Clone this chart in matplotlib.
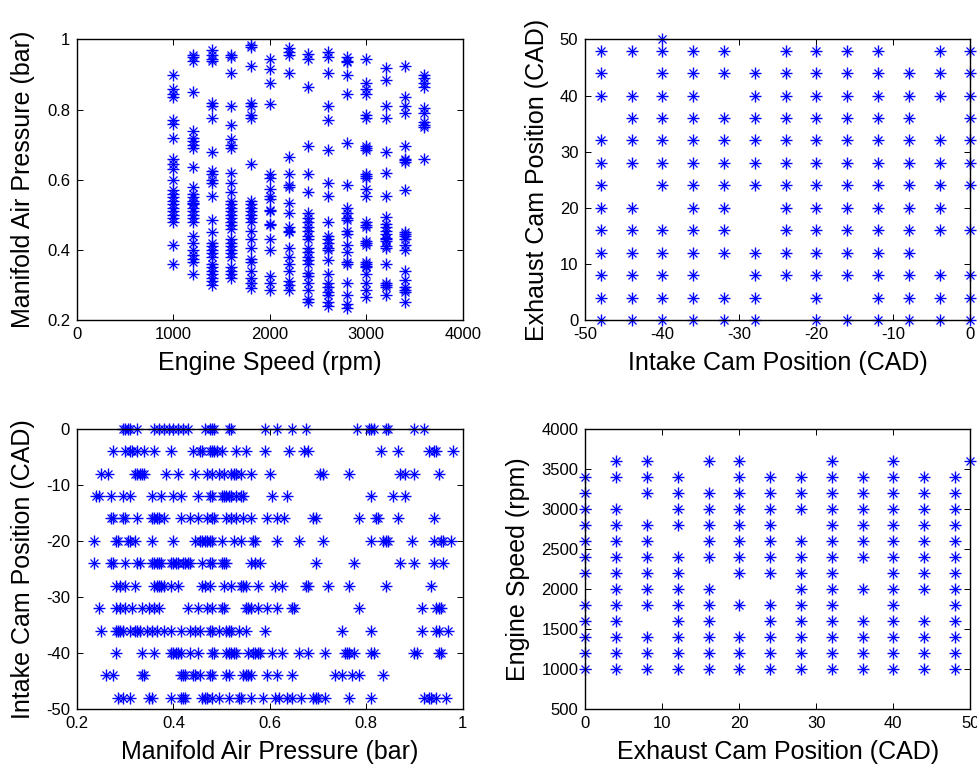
import matplotlib
matplotlib.use("Agg")
import matplotlib.pyplot as plt
import numpy as np

plt.rcParams['font.family'] = ['Liberation Sans', 'DejaVu Sans']

BLUE = (0.0, 0.0, 1.0)

# ---------------- Engine speed (rpm) vs manifold air pressure (bar) ----------------
speed_levels = [1000, 1200, 1400, 1600, 1800, 2000, 2200, 2400, 2600, 2800, 3000, 3200, 3400, 3600]
map_at_1000 = [0.90, 0.86, 0.845, 0.835, 0.77, 0.76, 0.72, 0.66, 0.645, 0.63, 0.60, 0.57, 0.56, 0.55,
               0.54, 0.53, 0.52, 0.51, 0.50, 0.49, 0.48, 0.415, 0.36]
map_at_1200 = [0.955, 0.95, 0.94, 0.85, 0.74, 0.72, 0.71, 0.70, 0.69, 0.635, 0.58, 0.56, 0.55, 0.54,
               0.535, 0.53, 0.52, 0.51, 0.50, 0.49, 0.48, 0.44, 0.42, 0.40, 0.385, 0.375, 0.365, 0.33]
map_at_1400 = [0.97, 0.955, 0.945, 0.94, 0.82, 0.81, 0.775, 0.68, 0.625, 0.615, 0.60, 0.59, 0.555,
               0.485, 0.45, 0.42, 0.41, 0.40, 0.39, 0.38, 0.36, 0.35, 0.34, 0.33, 0.32, 0.31, 0.30]
map_at_1600 = [0.955, 0.95, 0.905, 0.81, 0.755, 0.715, 0.70, 0.69, 0.62, 0.59, 0.565, 0.54, 0.53, 0.52,
               0.51, 0.50, 0.49, 0.48, 0.47, 0.46, 0.43, 0.42, 0.41, 0.40, 0.39, 0.38, 0.35, 0.34, 0.33, 0.32]
map_at_1800 = [0.985, 0.98, 0.925, 0.82, 0.81, 0.785, 0.775, 0.645, 0.54, 0.53, 0.52, 0.51, 0.50, 0.49,
               0.48, 0.455, 0.43, 0.405, 0.375, 0.365, 0.34, 0.32, 0.305, 0.29]
map_at_2000 = [0.945, 0.915, 0.875, 0.815, 0.615, 0.605, 0.575, 0.555, 0.545, 0.515, 0.51, 0.475, 0.47,
               0.43, 0.40, 0.325, 0.305, 0.285]
map_at_2200 = [0.975, 0.965, 0.955, 0.905, 0.665, 0.615, 0.585, 0.58, 0.535, 0.505, 0.465, 0.455, 0.45,
               0.405, 0.38, 0.36, 0.34, 0.31, 0.30, 0.285]
map_at_2400 = [0.96, 0.945, 0.865, 0.695, 0.615, 0.565, 0.505, 0.49, 0.48, 0.465, 0.455, 0.44, 0.43,
               0.405, 0.395, 0.38, 0.37, 0.36, 0.335, 0.325, 0.305, 0.285, 0.26, 0.25]
map_at_2600 = [0.965, 0.95, 0.905, 0.81, 0.77, 0.685, 0.59, 0.555, 0.48, 0.44, 0.43, 0.42, 0.405, 0.40,
               0.37, 0.33, 0.305, 0.295, 0.28, 0.27, 0.25, 0.24]
map_at_2800 = [0.95, 0.94, 0.935, 0.90, 0.845, 0.705, 0.585, 0.52, 0.505, 0.49, 0.485, 0.455, 0.445,
               0.415, 0.395, 0.365, 0.36, 0.305, 0.27, 0.245, 0.235]
map_at_3000 = [0.945, 0.875, 0.86, 0.845, 0.785, 0.775, 0.695, 0.69, 0.685, 0.615, 0.61, 0.605, 0.575,
               0.555, 0.48, 0.47, 0.465, 0.425, 0.42, 0.415, 0.365, 0.36, 0.355, 0.35, 0.33, 0.305,
               0.285, 0.265]
map_at_3200 = [0.92, 0.885, 0.81, 0.775, 0.68, 0.62, 0.555, 0.495, 0.475, 0.465, 0.455, 0.445, 0.435,
               0.43, 0.425, 0.41, 0.405, 0.36, 0.305, 0.30, 0.295, 0.27]
map_at_3400 = [0.925, 0.835, 0.81, 0.79, 0.695, 0.66, 0.655, 0.65, 0.57, 0.45, 0.445, 0.44, 0.43, 0.415,
               0.40, 0.34, 0.315, 0.295, 0.285, 0.28, 0.25]
map_at_3600 = [0.90, 0.89, 0.875, 0.865, 0.805, 0.79, 0.765, 0.755, 0.75, 0.66]

# ---------------- Intake cam (CAD) vs exhaust cam (CAD) ----------------
ecp_levels = [50, 48, 44, 40, 36, 32, 28, 24, 20, 16, 12, 8, 4, 0]
icp_at_ecp50 = [-40]
icp_at_ecp48 = [-48, -44, -40, -36, -32, -24, -20, -16, -12, -4, 0]
icp_at_ecp44 = [-48, -40, -36, -32, -28, -24, -20, -16, -12, -8, -4, 0]
icp_at_ecp40 = [-48, -44, -40, -36, -28, -24, -20, -16, -12, -8, -4, 0]
icp_at_ecp36 = [-44, -40, -36, -32, -28, -24, -20, -16, -12, -8, 0]
icp_at_ecp32 = [-48, -44, -40, -36, -32, -28, -24, -20, -16, -12, -8, -4, 0]
icp_at_ecp28 = [-48, -44, -40, -36, -32, -28, -24, -20, -16, -12, -8, -4, 0]
icp_at_ecp24 = [-48, -40, -36, -32, -28, -24, -20, -16, -12, -8, -4, 0]
icp_at_ecp20 = [-48, -44, -36, -32, -24, -20, -16, -12, -8, -4]
icp_at_ecp16 = [-48, -44, -40, -36, -32, -24, -20, -16, -12, -8, -4, 0]
icp_at_ecp12 = [-48, -44, -40, -36, -32, -28, -24, -20, -16, -12, -8]
icp_at_ecp8 = [-48, -44, -40, -36, -28, -24, -20, -16, -12, -8, -4, 0]
icp_at_ecp4 = [-48, -44, -40, -36, -32, -28, -20, -12, -8, -4, 0]
icp_at_ecp0 = [-48, -44, -40, -36, -32, -28, -20, -16, -12, -8, -4, 0]

# ---------------- Manifold air pressure (bar) vs intake cam (CAD) ----------------
icp_levels = [0, -4, -8, -12, -16, -20, -24, -28, -32, -36, -40, -44, -48]
map_at_icp0 = [0.295, 0.30, 0.305, 0.31, 0.325, 0.36, 0.37, 0.38, 0.39, 0.40, 0.41, 0.42, 0.43, 0.465,
               0.475, 0.48, 0.485, 0.515, 0.52, 0.59, 0.615, 0.645, 0.675, 0.78, 0.805, 0.81, 0.815,
               0.84, 0.845, 0.90, 0.92]
map_at_icp4 = [0.275, 0.30, 0.31, 0.315, 0.325, 0.34, 0.36, 0.395, 0.44, 0.455, 0.46, 0.475, 0.48,
               0.485, 0.49, 0.50, 0.53, 0.55, 0.59, 0.64, 0.67, 0.68, 0.83, 0.865, 0.93, 0.94, 0.945, 0.98]
map_at_icp8 = [0.25, 0.265, 0.32, 0.325, 0.33, 0.335, 0.34, 0.385, 0.41, 0.445, 0.47, 0.48, 0.495,
               0.505, 0.52, 0.525, 0.53, 0.54, 0.56, 0.60, 0.705, 0.71, 0.765, 0.87, 0.88, 0.90, 0.95]
map_at_icp12 = [0.24, 0.245, 0.27, 0.295, 0.31, 0.355, 0.375, 0.40, 0.415, 0.45, 0.475, 0.48, 0.50,
                0.505, 0.51, 0.515, 0.52, 0.53, 0.54, 0.545, 0.605, 0.635, 0.81, 0.855, 0.88]
map_at_icp16 = [0.27, 0.275, 0.295, 0.30, 0.325, 0.355, 0.36, 0.365, 0.37, 0.38, 0.415, 0.435, 0.45,
                0.47, 0.48, 0.485, 0.51, 0.52, 0.53, 0.545, 0.56, 0.595, 0.615, 0.63, 0.69, 0.695,
                0.785, 0.82, 0.825, 0.865, 0.94]
map_at_icp20 = [0.235, 0.28, 0.285, 0.305, 0.31, 0.32, 0.355, 0.40, 0.445, 0.455, 0.46, 0.465, 0.47,
                0.475, 0.48, 0.50, 0.525, 0.54, 0.565, 0.57, 0.615, 0.66, 0.71, 0.81, 0.835, 0.84,
                0.845, 0.895, 0.94, 0.955, 0.96, 0.975]
map_at_icp24 = [0.235, 0.27, 0.275, 0.30, 0.325, 0.33, 0.355, 0.36, 0.365, 0.37, 0.375, 0.395, 0.40,
                0.405, 0.41, 0.42, 0.425, 0.43, 0.435, 0.46, 0.475, 0.48, 0.50, 0.505, 0.51, 0.56,
                0.57, 0.58, 0.695, 0.775, 0.87, 0.90, 0.94, 0.96]
map_at_icp28 = [0.28, 0.29, 0.30, 0.32, 0.36, 0.365, 0.37, 0.375, 0.38, 0.395, 0.41, 0.46, 0.465,
                0.475, 0.505, 0.52, 0.54, 0.545, 0.55, 0.575, 0.61, 0.625, 0.675, 0.68, 0.72, 0.765,
                0.84, 0.935]
map_at_icp32 = [0.245, 0.28, 0.29, 0.30, 0.315, 0.335, 0.35, 0.36, 0.37, 0.43, 0.45, 0.47, 0.48, 0.50,
                0.505, 0.55, 0.555, 0.56, 0.575, 0.595, 0.615, 0.645, 0.65, 0.785, 0.915, 0.945,
                0.95, 0.955]
map_at_icp36 = [0.25, 0.28, 0.285, 0.29, 0.295, 0.31, 0.32, 0.325, 0.33, 0.345, 0.355, 0.365, 0.38,
                0.395, 0.415, 0.435, 0.445, 0.455, 0.475, 0.48, 0.495, 0.51, 0.515, 0.52, 0.535,
                0.55, 0.59, 0.75, 0.81, 0.915, 0.945, 0.95, 0.97]
map_at_icp40 = [0.28, 0.335, 0.36, 0.395, 0.40, 0.405, 0.41, 0.415, 0.435, 0.45, 0.48, 0.485, 0.51,
                0.515, 0.52, 0.525, 0.53, 0.555, 0.565, 0.57, 0.575, 0.58, 0.605, 0.625, 0.66, 0.68,
                0.715, 0.755, 0.76, 0.765, 0.775, 0.81, 0.815, 0.90, 0.905, 0.95, 0.955]
map_at_icp44 = [0.26, 0.275, 0.335, 0.34, 0.415, 0.42, 0.425, 0.44, 0.445, 0.455, 0.475, 0.48, 0.51,
                0.515, 0.545, 0.55, 0.555, 0.56, 0.595, 0.615, 0.645, 0.735, 0.75, 0.77, 0.785, 0.835]
map_at_icp48 = [0.285, 0.295, 0.31, 0.35, 0.355, 0.395, 0.415, 0.42, 0.425, 0.46, 0.465, 0.47, 0.48,
                0.495, 0.515, 0.535, 0.54, 0.56, 0.585, 0.61, 0.62, 0.635, 0.645, 0.665, 0.69, 0.695,
                0.70, 0.715, 0.765, 0.81, 0.92, 0.93, 0.935, 0.945, 0.965]

# ---------------- Exhaust cam (CAD) vs engine speed (rpm) ----------------
ecp_columns = [0, 4, 8, 12, 16, 20, 24, 28, 32, 36, 40, 44, 48, 50]
speed_at_ecp0 = [1000, 1200, 1400, 1600, 1800, 2200, 2400, 2600, 2800, 3000, 3200, 3400]
speed_at_ecp4 = [1000, 1200, 1400, 1600, 1800, 2000, 2200, 2400, 2600, 2800, 3000, 3400, 3600]
speed_at_ecp8 = [1000, 1200, 1400, 1800, 2000, 2200, 2400, 2600, 2800, 3200, 3400, 3600]
speed_at_ecp12 = [1000, 1200, 1400, 1600, 1800, 2000, 2200, 2400, 2800, 3000, 3200, 3400]
speed_at_ecp16 = [1000, 1200, 1400, 1600, 1800, 2000, 2400, 2600, 2800, 3000, 3200, 3600]
speed_at_ecp20 = [1000, 1200, 1400, 1800, 2200, 2400, 2600, 2800, 3000, 3200, 3400, 3600]
speed_at_ecp24 = [1000, 1200, 1400, 1600, 1800, 2200, 2400, 2600, 2800, 3000, 3200, 3400]
speed_at_ecp28 = [1000, 1200, 1400, 1600, 1800, 2000, 2200, 2400, 2600, 3000, 3200, 3400]
speed_at_ecp32 = [1000, 1200, 1400, 1600, 1800, 2000, 2200, 2400, 2600, 2800, 3000, 3200, 3400, 3600]
speed_at_ecp36 = [1000, 1200, 1400, 1600, 2000, 2400, 2600, 2800, 3000, 3200, 3400]
speed_at_ecp40 = [1000, 1200, 1400, 1600, 1800, 2000, 2200, 2400, 2600, 2800, 3000, 3200, 3400, 3600]
speed_at_ecp44 = [1000, 1200, 1400, 1600, 2000, 2200, 2400, 2600, 2800, 3000, 3200, 3400]
speed_at_ecp48 = [1000, 1200, 1400, 1600, 1800, 2000, 2200, 2400, 2600, 2800, 3000, 3200, 3400]
speed_at_ecp50 = [3600]


def flatten(levels, groups, level_is_x):
    xs, ys = [], []
    for lev, vals in zip(levels, groups):
        for v in vals:
            if level_is_x:
                xs.append(lev)
                ys.append(v)
            else:
                xs.append(v)
                ys.append(lev)
    return np.array(xs, float), np.array(ys, float)


def asterisk(ax, x, y):
    # plus sign with a short diagonal cross and a small solid hub
    ax.plot(x, y, ls='none', marker='+', ms=9, mew=1.0, color=BLUE, clip_on=False, zorder=2)
    ax.plot(x, y, ls='none', marker='x', ms=5.5, mew=0.9, color=BLUE, clip_on=False, zorder=2)
    ax.plot(x, y, ls='none', marker='o', ms=2.5, mew=0, color=BLUE, clip_on=False, zorder=2)


def style(ax, xlim, ylim, xticks, yticks, xlabels, ylabels, xlabel, ylabel, ylab_off):
    ax.set_xlim(*xlim)
    ax.set_ylim(*ylim)
    ax.set_xticks(xticks)
    ax.set_yticks(yticks)
    ax.set_xticklabels(xlabels)
    ax.set_yticklabels(ylabels)
    ax.tick_params(direction='in', length=4, width=0.7, top=True, right=True,
                   labelsize=12, pad=5, colors='black')
    for sp in ax.spines.values():
        sp.set_linewidth(1.0)
        sp.set_color('black')
        sp.set_zorder(4)
    ax.set_xlabel(xlabel, fontsize=18, va='center')
    ax.set_ylabel(ylabel, fontsize=18, va='center')
    ax.xaxis.set_label_coords(0.5, -42.5 / 280.0)
    ax.yaxis.set_label_coords(-ylab_off / 386.0, 0.5)


fig = plt.figure(figsize=(9.77, 7.66), dpi=100)
W, H = 977.0, 766.0


def add_axes(left, top, right, bottom):
    return fig.add_axes([left / W, 1 - bottom / H, (right - left) / W, (bottom - top) / H])


ax1 = add_axes(77, 39.5, 462.7, 320)
ax2 = add_axes(585.3, 39.5, 970.3, 320)
ax3 = add_axes(77, 428.7, 462.7, 709)
ax4 = add_axes(585.3, 428.7, 970.3, 709)

# Panel 1
x1, y1 = flatten(speed_levels,
                 [map_at_1000, map_at_1200, map_at_1400, map_at_1600, map_at_1800, map_at_2000,
                  map_at_2200, map_at_2400, map_at_2600, map_at_2800, map_at_3000, map_at_3200,
                  map_at_3400, map_at_3600], True)
asterisk(ax1, x1, y1)
style(ax1, (0, 4000), (0.2, 1.0), [0, 1000, 2000, 3000, 4000], [0.2, 0.4, 0.6, 0.8, 1.0],
      ['0', '1000', '2000', '3000', '4000'], ['0.2', '0.4', '0.6', '0.8', '1'],
      'Engine Speed (rpm)', 'Manifold Air Pressure (bar)', 54)

# Panel 2
x2, y2 = flatten(ecp_levels,
                 [icp_at_ecp50, icp_at_ecp48, icp_at_ecp44, icp_at_ecp40, icp_at_ecp36, icp_at_ecp32,
                  icp_at_ecp28, icp_at_ecp24, icp_at_ecp20, icp_at_ecp16, icp_at_ecp12, icp_at_ecp8,
                  icp_at_ecp4, icp_at_ecp0], False)
asterisk(ax2, x2, y2)
style(ax2, (-50, 0), (0, 50), [-50, -40, -30, -20, -10, 0], [0, 10, 20, 30, 40, 50],
      ['-50', '-40', '-30', '-20', '-10', '0'], ['0', '10', '20', '30', '40', '50'],
      'Intake Cam Position (CAD)', 'Exhaust Cam Position (CAD)', 48)

# Panel 3
x3, y3 = flatten(icp_levels,
                 [map_at_icp0, map_at_icp4, map_at_icp8, map_at_icp12, map_at_icp16, map_at_icp20,
                  map_at_icp24, map_at_icp28, map_at_icp32, map_at_icp36, map_at_icp40, map_at_icp44,
                  map_at_icp48], False)
asterisk(ax3, x3, y3)
style(ax3, (0.2, 1.0), (-50, 0), [0.2, 0.4, 0.6, 0.8, 1.0], [-50, -40, -30, -20, -10, 0],
      ['0.2', '0.4', '0.6', '0.8', '1'], ['-50', '-40', '-30', '-20', '-10', '0'],
      'Manifold Air Pressure (bar)', 'Intake Cam Position (CAD)', 54)

# Panel 4
x4, y4 = flatten(ecp_columns,
                 [speed_at_ecp0, speed_at_ecp4, speed_at_ecp8, speed_at_ecp12, speed_at_ecp16,
                  speed_at_ecp20, speed_at_ecp24, speed_at_ecp28, speed_at_ecp32, speed_at_ecp36,
                  speed_at_ecp40, speed_at_ecp44, speed_at_ecp48, speed_at_ecp50], True)
asterisk(ax4, x4, y4)
style(ax4, (0, 50), (500, 4000), [0, 10, 20, 30, 40, 50], list(range(500, 4001, 500)),
      ['0', '10', '20', '30', '40', '50'], [str(v) for v in range(500, 4001, 500)],
      'Exhaust Cam Position (CAD)', 'Engine Speed (rpm)', 67)

fig.savefig('out.png', dpi=100)
